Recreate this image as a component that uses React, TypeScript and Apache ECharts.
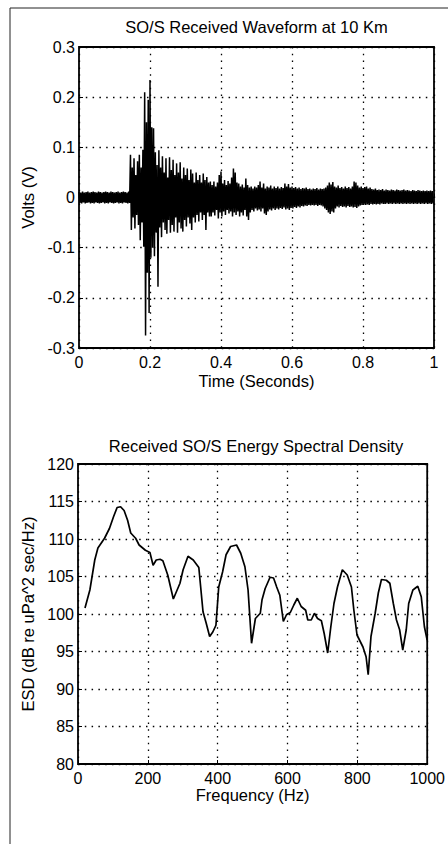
import React, { useEffect, useRef } from "react";
import * as echarts from "echarts";

// ---------- Received waveform: envelope per 5 ms bin (Volts) ----------
const waveBinWidth = 0.005;
// 0.000 – 0.140 s (pre-arrival noise)
const waveUpperPre = [0.011,0.010,0.012,0.010,0.011,0.012,0.010,0.011,0.012,0.011,0.010,0.012,0.011,0.010,0.011,0.012,0.011,0.010,0.012,0.011,0.010,0.011,0.012,0.010,0.011,0.012,0.011,0.010,0.012];
const waveLowerPre = [-0.011,-0.012,-0.010,-0.012,-0.011,-0.010,-0.012,-0.011,-0.012,-0.010,-0.011,-0.012,-0.011,-0.010,-0.012,-0.011,-0.012,-0.010,-0.011,-0.012,-0.011,-0.010,-0.012,-0.011,-0.012,-0.010,-0.011,-0.012,-0.011];
// 0.145 – 0.365 s (arrival burst)
const waveUpperBurst = [0.085,0.060,0.078,0.045,0.072,0.085,0.060,0.095,0.210,0.150,0.195,0.234,0.140,0.138,0.090,0.065,0.094,0.060,0.082,0.050,0.078,0.040,0.080,0.055,0.075,0.045,0.068,0.050,0.070,0.038,0.060,0.045,0.058,0.035,0.056,0.048,0.030,0.050,0.035,0.045,0.030,0.048,0.035,0.041,0.030];
const waveLowerBurst = [-0.065,-0.040,-0.062,-0.035,-0.055,-0.085,-0.050,-0.098,-0.275,-0.150,-0.230,-0.120,-0.100,-0.117,-0.070,-0.178,-0.060,-0.079,-0.050,-0.065,-0.072,-0.045,-0.070,-0.055,-0.068,-0.040,-0.070,-0.050,-0.062,-0.068,-0.045,-0.058,-0.040,-0.052,-0.065,-0.040,-0.050,-0.035,-0.048,-0.030,-0.045,-0.035,-0.065,-0.030,-0.038];
// 0.370 – 0.595 s (coda)
const waveUpperMid = [0.032,0.025,0.032,0.022,0.030,0.045,0.052,0.028,0.035,0.025,0.033,0.028,0.040,0.058,0.050,0.030,0.028,0.022,0.026,0.020,0.038,0.025,0.020,0.022,0.018,0.022,0.020,0.025,0.032,0.020,0.028,0.018,0.022,0.020,0.024,0.018,0.022,0.019,0.022,0.018,0.021,0.019,0.028,0.022,0.027,0.020];
const waveLowerMid = [-0.038,-0.030,-0.036,-0.025,-0.042,-0.030,-0.038,-0.028,-0.035,-0.025,-0.032,-0.028,-0.038,-0.030,-0.035,-0.028,-0.038,-0.030,-0.036,-0.025,-0.038,-0.045,-0.030,-0.025,-0.028,-0.022,-0.026,-0.024,-0.028,-0.022,-0.032,-0.035,-0.028,-0.024,-0.026,-0.022,-0.025,-0.022,-0.024,-0.021,-0.023,-0.020,-0.024,-0.022,-0.025,-0.021];
// 0.600 – 0.995 s (tail)
const waveUpperTail = [0.022,0.019,0.021,0.018,0.020,0.017,0.019,0.018,0.020,0.017,0.018,0.016,0.018,0.017,0.019,0.016,0.018,0.017,0.018,0.020,0.024,0.030,0.026,0.031,0.022,0.020,0.024,0.019,0.021,0.018,0.022,0.019,0.021,0.018,0.022,0.032,0.030,0.024,0.020,0.022,0.019,0.021,0.022,0.018,0.020,0.017,0.016,0.018,0.015,0.016,0.015,0.017,0.014,0.016,0.015,0.014,0.016,0.015,0.014,0.016,0.015,0.014,0.015,0.016,0.014,0.015,0.014,0.013,0.015,0.014,0.013,0.015,0.014,0.013,0.014,0.013,0.014,0.013,0.014,0.013];
const waveLowerTail = [-0.022,-0.019,-0.021,-0.018,-0.020,-0.017,-0.018,-0.016,-0.017,-0.015,-0.016,-0.015,-0.016,-0.015,-0.017,-0.015,-0.016,-0.018,-0.022,-0.025,-0.030,-0.033,-0.028,-0.030,-0.022,-0.018,-0.020,-0.017,-0.019,-0.018,-0.020,-0.017,-0.019,-0.018,-0.020,-0.019,-0.021,-0.018,-0.016,-0.015,-0.014,-0.015,-0.014,-0.015,-0.013,-0.014,-0.013,-0.014,-0.013,-0.014,-0.012,-0.013,-0.013,-0.012,-0.013,-0.012,-0.013,-0.012,-0.013,-0.012,-0.013,-0.012,-0.013,-0.012,-0.013,-0.012,-0.013,-0.012,-0.013,-0.012,-0.013,-0.012,-0.013,-0.012,-0.013,-0.012,-0.013,-0.012,-0.013,-0.012];

// ---------- Energy spectral density ----------
const esdFreq = [20,34,48,57,76,90,102,112,122,132,142,151,165,175,193,206,215,224,235,243,257,273,292,301,315,330,346,358,367,377,386,395,403,414,424,437,454,466,478,487,497,508,522,527,536,550,560,569,578,588,597,608,618,628,639,652,658,668,677,686,697,705,715,724,733,743,757,771,783,790,799,816,825,831,839,851,860,869,883,893,903,912,921,930,940,947,959,973,983,992,1000];
const esdLevel = [100.8,103.2,107.2,108.8,110.1,111.4,113.0,114.2,114.3,113.8,112.5,110.8,110.1,109.2,108.5,108.2,106.5,107.2,107.3,107.1,105.2,102.0,104.1,105.9,107.7,107.2,106.2,100.3,98.8,97.0,97.6,98.5,103.6,105.6,107.9,109.0,109.2,108.1,106.3,103.2,96.1,99.4,100.1,101.9,103.4,104.9,104.8,103.6,102.5,99.0,99.9,100.2,101.2,102.1,101.0,100.5,99.2,99.2,100.1,99.4,99.1,97.4,94.8,98.3,101.4,103.6,105.9,105.2,103.6,100.5,97.2,95.6,94.3,91.9,97.0,100.1,102.8,104.6,104.5,104.1,101.4,99.2,97.9,95.2,97.9,101.4,103.2,103.7,102.3,98.3,96.5];

const titles = ["SO/S Received Waveform at 10 Km", "Received SO/S Energy Spectral Density"];
const xNames = ["Time (Seconds)", "Frequency (Hz)"];
const yNames = ["Volts (V)", "ESD (dB re uPa^2 sec/Hz)"];

const FONT = "'Liberation Sans', Arial, Helvetica, sans-serif";

function buildWave(): number[][] {
  const upper = [...waveUpperPre, ...waveUpperBurst, ...waveUpperMid, ...waveUpperTail];
  const lower = [...waveLowerPre, ...waveLowerBurst, ...waveLowerMid, ...waveLowerTail];
  const pts: number[][] = [];
  for (let i = 0; i < upper.length; i++) {
    const t = i * waveBinWidth;
    pts.push([t, upper[i]]);
    pts.push([t + waveBinWidth / 2, lower[i]]);
  }
  return pts;
}

function fmtTime(v: number) {
  if (Math.abs(v) < 1e-9) return "0";
  if (Math.abs(v - 1) < 1e-9) return "1";
  return v.toFixed(1);
}
function fmtVolt(v: number) {
  if (Math.abs(v) < 1e-9) return "0";
  return v.toFixed(1);
}
function fmtPlain(v: number) {
  return String(Math.round(v));
}

const labelStyle = { color: "#000", fontSize: 16, fontFamily: FONT };
const axisBase = {
  axisLine: { show: false },
  axisTick: { show: true, inside: true, length: 4, lineStyle: { color: "#000", width: 1 } },
  splitLine: { show: true, lineStyle: { color: "#000", width: 1.3, type: [1.5, 5.3] } },
  nameLocation: "middle" as const,
  nameTextStyle: { color: "#000", fontSize: 16.5, fontFamily: FONT },
};

export default function App() {
  const ref = useRef<HTMLDivElement>(null);
  useEffect(() => {
    document.body.style.margin = "0";
    const chart = echarts.init(ref.current!, null, { renderer: "svg" });
    const option: any = {
      animation: false,
      backgroundColor: "#fff",
      title: [
        { text: titles[0], left: 256.5, top: 18, textAlign: "center", padding: 0,
          textStyle: { color: "#000", fontSize: 16.5, fontWeight: "normal", fontFamily: FONT } },
        { text: titles[1], left: 256, top: 437, textAlign: "center", padding: 0,
          textStyle: { color: "#000", fontSize: 16.5, fontWeight: "normal", fontFamily: FONT } },
      ],
      graphic: [
        { type: "line", shape: { x1: 10, y1: 8, x2: 10, y2: 844 }, style: { stroke: "#222", lineWidth: 1 } },
        { type: "line", shape: { x1: 10, y1: 8, x2: 448, y2: 8 }, style: { stroke: "#222", lineWidth: 1 } },
      ],
      grid: [
        { left: 79, top: 47, width: 355, height: 301, show: true, borderColor: "#000", borderWidth: 1.8, backgroundColor: "transparent" },
        { left: 78, top: 464, width: 355, height: 300, show: true, borderColor: "#000", borderWidth: 1.8, backgroundColor: "transparent" },
      ],
      xAxis: [
        { ...axisBase, gridIndex: 0, type: "value", min: 0, max: 1, interval: 0.2,
          name: xNames[0], nameGap: 24,
          axisLabel: { ...labelStyle, margin: 6, formatter: fmtTime } },
        { ...axisBase, gridIndex: 1, type: "value", min: 0, max: 1000, interval: 200,
          name: xNames[1], nameGap: 22,
          axisLabel: { ...labelStyle, margin: 6, formatter: fmtPlain } },
      ],
      yAxis: [
        { ...axisBase, gridIndex: 0, type: "value", min: -0.3, max: 0.3, interval: 0.1,
          name: yNames[0], nameGap: 29,
          axisLabel: { ...labelStyle, margin: 4, formatter: fmtVolt } },
        { ...axisBase, gridIndex: 1, type: "value", min: 80, max: 120, interval: 5,
          name: yNames[1], nameGap: 29,
          axisLabel: { ...labelStyle, margin: 4, formatter: fmtPlain } },
      ],
      series: [
        { type: "line", xAxisIndex: 0, yAxisIndex: 0, data: buildWave(), showSymbol: false, symbol: "none",
          lineStyle: { color: "#000", width: 1.5 }, silent: true, clip: true },
        { type: "line", xAxisIndex: 1, yAxisIndex: 1, data: esdFreq.map((f, i) => [f, esdLevel[i]]),
          showSymbol: false, symbol: "none", lineStyle: { color: "#000", width: 1.7 }, silent: true, clip: true },
      ],
    };
    chart.setOption(option);
    return () => chart.dispose();
  }, []);
  return <div ref={ref} style={{ width: 448, height: 844 }} />;
}
